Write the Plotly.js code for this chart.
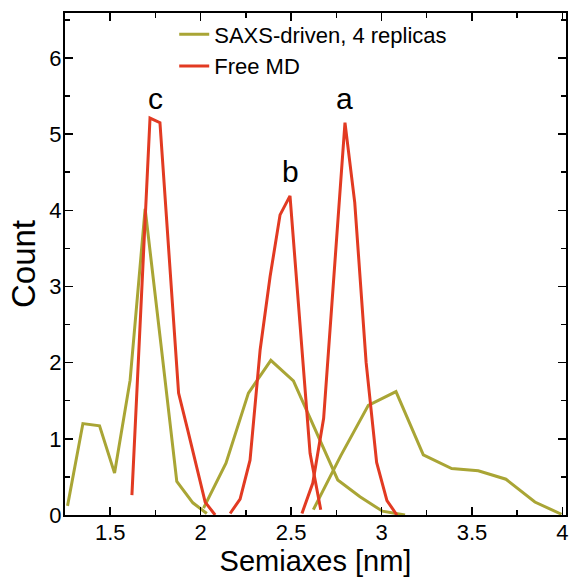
<!DOCTYPE html>
<html>
<head>
<meta charset="utf-8">
<script src="https://cdn.plot.ly/plotly-3.0.1.min.js"></script>
<style>html,body{margin:0;padding:0;background:#fff;}#chart{width:573px;height:577px;}</style>
</head>
<body>
<div id="chart"></div>
<script>
// SAXS-driven, 4 replicas (three semiaxes c, b, a)
const saxsCX = [1.264, 1.349, 1.441, 1.524, 1.61, 1.693, 1.78, 1.868, 1.957, 2.034];
const saxsCY = [0.12, 1.20, 1.17, 0.55, 1.77, 4.02, 2.25, 0.44, 0.16, 0.02];
const saxsBX = [2.016, 2.14, 2.264, 2.388, 2.513, 2.635, 2.758, 2.881, 3.005, 3.13];
const saxsBY = [0.09, 0.68, 1.60, 2.03, 1.76, 1.12, 0.46, 0.24, 0.05, 0.0];
const saxsAX = [2.623, 2.775, 2.927, 3.08, 3.231, 3.388, 3.535, 3.688, 3.848, 3.995];
const saxsAY = [0.07, 0.78, 1.44, 1.62, 0.79, 0.61, 0.58, 0.47, 0.17, 0.01];
// Free MD
const freeCX = [1.62, 1.67, 1.72, 1.775, 1.827, 1.878, 1.93, 1.975, 2.025, 2.08];
const freeCY = [0.26, 2.7, 5.21, 5.15, 3.3, 1.6, 1.1, 0.65, 0.17, 0.0];
const freeBX = [2.163, 2.218, 2.273, 2.329, 2.384, 2.439, 2.494, 2.549, 2.605, 2.664];
const freeBY = [0.02, 0.21, 0.72, 2.17, 3.13, 3.94, 4.19, 2.5, 0.81, 0.07];
const freeAX = [2.56, 2.62, 2.68, 2.74, 2.798, 2.852, 2.915, 2.973, 3.03, 3.085];
const freeAY = [0.02, 0.42, 1.27, 3.2, 5.15, 4.1, 2.0, 0.69, 0.19, 0.0];
// peak labels
const peakText = ['c', 'b', 'a'];
const peakX = [1.749, 2.494, 2.798];
const peakY = [5.47, 4.51, 5.47];

const olive = '#a9a535';
const red = '#e23a22';
const fontFam = 'Liberation Sans, Arial, Helvetica, sans-serif';

function tr(x, y, name, color, show) {
  return {x: x, y: y, type: 'scatter', mode: 'lines', name: name,
    legendgroup: name, showlegend: show,
    line: {color: color, width: 3}, hoverinfo: 'skip'};
}
const data = [
  tr(saxsCX, saxsCY, 'SAXS-driven, 4 replicas', olive, true),
  tr(saxsBX, saxsBY, 'SAXS-driven, 4 replicas', olive, false),
  tr(saxsAX, saxsAY, 'SAXS-driven, 4 replicas', olive, false),
  tr(freeCX, freeCY, 'Free MD', red, true),
  tr(freeBX, freeBY, 'Free MD', red, false),
  tr(freeAX, freeAY, 'Free MD', red, false)
];

const annotations = peakText.map((t, i) => ({
  x: peakX[i], y: peakY[i], xref: 'x', yref: 'y', text: t, showarrow: false,
  font: {family: fontFam, size: 30, color: '#000'}
}));

const axisCommon = {
  showgrid: false, zeroline: false, showline: true, linecolor: '#000', linewidth: 2,
  mirror: 'allticks', ticks: 'inside', ticklen: 8, tickwidth: 1.5, tickcolor: '#000',
  tickfont: {family: fontFam, size: 22, color: '#000'}
};

const layout = {
  width: 573, height: 577,
  margin: {l: 65, r: 7, t: 13, b: 62},
  paper_bgcolor: '#fff', plot_bgcolor: '#fff',
  showlegend: true,
  legend: {x: 0.218, y: 0.999, xanchor: 'left', yanchor: 'top', bgcolor: 'rgba(0,0,0,0)',
    font: {family: fontFam, size: 22, color: '#000'}, tracegroupgap: 0, itemwidth: 30},
  xaxis: Object.assign({}, axisCommon, {
    range: [1.25, 4.02], tickvals: [1.5, 2, 2.5, 3, 3.5, 4], ticktext: ['1.5', '2', '2.5', '3', '3.5', '4'],
    ticklabelstandoff: -3,
    minor: {dtick: 0.25, tick0: 0, ticks: 'inside', ticklen: 5, tickcolor: '#000', tickwidth: 1.5},
    title: {text: 'Semiaxes [nm]', font: {family: fontFam, size: 29, color: '#000'}, standoff: 0}
  }),
  yaxis: Object.assign({}, axisCommon, {
    range: [0, 6.59], dtick: 1, tick0: 0, ticklabelstandoff: -3,
    minor: {dtick: 0.5, tick0: 0, ticks: 'inside', ticklen: 5, tickcolor: '#000', tickwidth: 1.5},
    title: {text: 'Count', font: {family: fontFam, size: 33, color: '#000'}, standoff: 4}
  }),
  annotations: annotations
};

Plotly.newPlot('chart', data, layout, {displayModeBar: false, staticPlot: true});
</script>
</body>
</html>
